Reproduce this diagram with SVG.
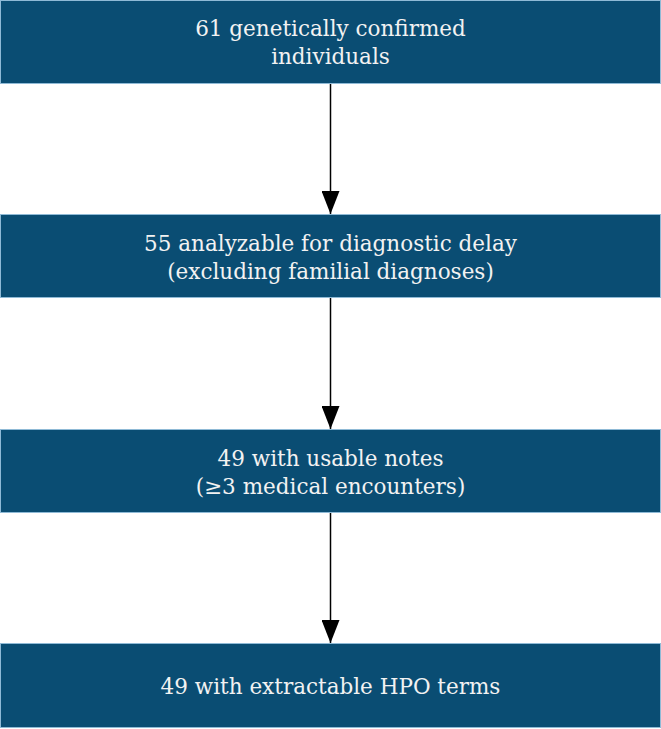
<svg xmlns="http://www.w3.org/2000/svg" width="661" height="729" viewBox="0 0 661 729">
<defs>
<marker id="ah" markerWidth="23" markerHeight="18" refX="23" refY="9" orient="auto" markerUnits="userSpaceOnUse" viewBox="0 0 23 18" preserveAspectRatio="none">
<path d="M0,0 L23,9 L0,18 Z" fill="#000"/>
</marker>
<style>
.box{fill:#0a4d73;stroke:#8fbad6;stroke-width:1}
.t{font-family:"DejaVu Serif","Liberation Serif",serif;font-size:21.5px;fill:#f2f2f2;text-anchor:middle}
.c{stroke:#000;stroke-width:1.5;fill:none}
</style>
</defs>
<rect width="661" height="729" fill="#fff"/>
<g id="connectors">
<line class="c" x1="330.5" y1="84" x2="330.5" y2="214" marker-end="url(#ah)"/>
<line class="c" x1="330.5" y1="298" x2="330.5" y2="429" marker-end="url(#ah)"/>
<line class="c" x1="330.5" y1="513" x2="330.5" y2="643" marker-end="url(#ah)"/>
</g>
<g id="n1">
<rect class="box" x="0.5" y="0.5" width="660" height="83"/>
<text class="t" x="330.5" y="36">61 genetically confirmed</text>
<text class="t" x="330.5" y="64">individuals</text>
</g>
<g id="n2">
<rect class="box" x="0.5" y="214.5" width="660" height="83"/>
<text class="t" x="330.5" y="251">55 analyzable for diagnostic delay</text>
<text class="t" x="330.5" y="279">(excluding familial diagnoses)</text>
</g>
<g id="n3">
<rect class="box" x="0.5" y="429.5" width="660" height="83"/>
<text class="t" x="330.5" y="466">49 with usable notes</text>
<text class="t" x="330.5" y="494">(≥3 medical encounters)</text>
</g>
<g id="n4">
<rect class="box" x="0.5" y="643.5" width="660" height="84"/>
<text class="t" x="330.5" y="694">49 with extractable HPO terms</text>
</g>
</svg>
